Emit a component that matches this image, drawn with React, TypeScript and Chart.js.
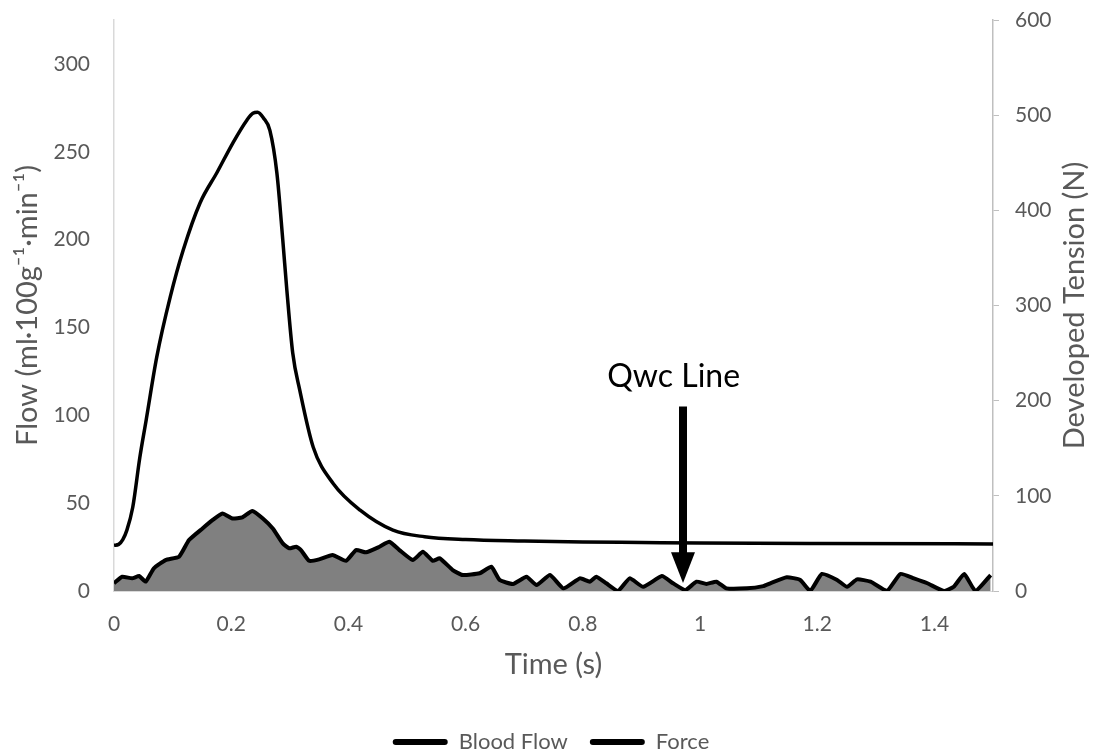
import React, { useEffect, useRef } from "react";
import { Chart, registerables } from "chart.js";

Chart.register(...registerables);

// ---- Data ----
const flowTimes = [
  0.0, 0.014, 0.031, 0.043, 0.054, 0.068, 0.088, 0.111, 0.128, 0.151, 0.168, 0.185, 0.202, 0.219,
  0.236, 0.254, 0.271, 0.288, 0.299, 0.311, 0.319, 0.333, 0.35, 0.373, 0.396, 0.413, 0.43, 0.453,
  0.47, 0.487, 0.51, 0.527, 0.544, 0.556, 0.578, 0.595, 0.624, 0.644, 0.658, 0.681, 0.704, 0.721,
  0.744, 0.767, 0.795, 0.812, 0.823, 0.84, 0.86, 0.88, 0.903, 0.935, 0.954, 0.975, 0.994, 1.011,
  1.028, 1.045, 1.08, 1.108, 1.12, 1.148, 1.171, 1.188, 1.208, 1.234, 1.251, 1.268, 1.291, 1.319,
  1.342, 1.365, 1.388, 1.416, 1.433, 1.451, 1.47, 1.496,
];
const flowValues = [
  4.4, 8.1, 7.2, 8.5, 5.3, 12.9, 17.6, 19.5, 29, 35.6, 40.3, 44.1, 41.3, 41.9,
  45.6, 41.3, 35.6, 27.1, 24.3, 25.2, 23.3, 17.2, 18, 20.5, 17.2, 23.3, 22, 25.2,
  28, 23.3, 17.6, 22.3, 17.2, 18.6, 11.9, 9.1, 10.1, 13.8, 6.3, 4, 8.1, 3.4,
  9.1, 1.5, 7.2, 5.3, 8.1, 4.4, 0, 7.2, 2.4, 8.5, 4.4, 0.5, 5.3, 4,
  5.3, 1.5, 1.5, 2.8, 4.4, 7.8, 6.3, 0, 9.7, 6.3, 2.4, 6.6, 5.3, 0,
  9.7, 7.2, 4.4, 0, 2.4, 9.7, 0, 9.1,
];

const forceTimes = [
  0, 0.008, 0.015, 0.022, 0.032, 0.044, 0.055, 0.073, 0.096, 0.118, 0.147, 0.176, 0.203, 0.227,
  0.237, 0.245, 0.255, 0.266, 0.278, 0.288, 0.295, 0.305, 0.317, 0.34, 0.374, 0.42, 0.476, 0.53,
  0.6, 0.7, 0.8, 0.9, 1.0, 1.2, 1.5,
];
const forceValues = [
  48, 49, 54, 64, 88, 140, 180, 246, 309, 358, 408, 440, 471, 495,
  502, 503, 497, 484, 439, 369, 316, 250, 211, 151, 113, 85, 64, 57,
  54, 52.5, 51.5, 51, 50.5, 50, 49.5,
];

const xTicks = [0, 0.2, 0.4, 0.6, 0.8, 1, 1.2, 1.4];
const flowTicks = [0, 50, 100, 150, 200, 250, 300];
const tensionTicks = [0, 100, 200, 300, 400, 500, 600];

const seriesNames = ["Blood Flow", "Force"];
const axisTitles = ["Time (s)", "Flow (ml·100g⁻¹·min⁻¹)", "Developed Tension (N)"];

const annotationText = "Qwc Line";
const annotationTime = 0.955;
const annotationFlow = 122;
const arrowTime = 0.971;
const arrowStartFlow = 105;
const arrowHeadFlow = 22;
const arrowTipFlow = 4.5;

const FONT = "Lato, 'Open Sans', sans-serif";
const GREY_TEXT = "#595959";

const overlayPlugin = {
  id: "overlay",
  afterDraw(chart: any) {
    const { ctx, scales, chartArea } = chart;
    const xs = scales.x;
    const ys = scales.y;
    const yr = scales.y1;
    ctx.save();
    // right axis title (reads bottom-to-top)
    ctx.fillStyle = GREY_TEXT;
    ctx.font = `29px ${FONT}`;
    ctx.textAlign = "center";
    ctx.textBaseline = "middle";
    ctx.save();
    ctx.translate(yr.right - 27, (chartArea.top + chartArea.bottom) / 2);
    ctx.rotate(-Math.PI / 2);
    ctx.fillText(axisTitles[2], 0, 0);
    ctx.restore();

    // annotation text
    ctx.fillStyle = "#000";
    ctx.font = `32px ${FONT}`;
    ctx.fillText(annotationText, xs.getPixelForValue(annotationTime), ys.getPixelForValue(annotationFlow));

    // arrow
    const ax = xs.getPixelForValue(arrowTime);
    const y0 = ys.getPixelForValue(arrowStartFlow);
    const yh = ys.getPixelForValue(arrowHeadFlow);
    const yt = ys.getPixelForValue(arrowTipFlow);
    ctx.strokeStyle = "#000";
    ctx.lineWidth = 8;
    ctx.beginPath();
    ctx.moveTo(ax, y0);
    ctx.lineTo(ax, yh + 2);
    ctx.stroke();
    ctx.beginPath();
    ctx.moveTo(ax - 12, yh);
    ctx.lineTo(ax + 12, yh);
    ctx.lineTo(ax, yt);
    ctx.closePath();
    ctx.fill();
    ctx.restore();
  },
};

const noVerticalPadding = (s: any) => {
  s.paddingTop = 0;
  s.paddingBottom = 0;
};

export default function App() {
  const canvasRef = useRef<HTMLCanvasElement | null>(null);

  useEffect(() => {
    document.body.style.margin = "0";
    document.body.style.overflow = "hidden";
    const canvas = canvasRef.current;
    if (!canvas) return;

    const flowData = flowTimes.map((t, i) => ({ x: t, y: flowValues[i] }));
    const forceData = forceTimes.map((t, i) => ({ x: t, y: forceValues[i] }));

    const chart = new Chart(canvas, {
      type: "line",
      data: {
        datasets: [
          {
            label: seriesNames[0],
            data: flowData,
            yAxisID: "y",
            borderColor: "#000",
            backgroundColor: "#808080",
            borderWidth: 4,
            borderJoinStyle: "round",
            fill: "origin",
            pointRadius: 0,
            tension: 0.15,
          },
          {
            label: seriesNames[1],
            data: forceData,
            yAxisID: "y1",
            borderColor: "#000",
            backgroundColor: "#000",
            borderWidth: 3.5,
            fill: false,
            pointRadius: 0,
            cubicInterpolationMode: "monotone",
          },
        ],
      },
      options: {
        responsive: false,
        animation: false,
        layout: { padding: { top: 20, bottom: -8, left: 0, right: 0 } },
        plugins: {
          tooltip: { enabled: false },
          legend: {
            position: "bottom",
            labels: {
              boxWidth: 55,
              boxHeight: 6,
              useBorderRadius: true,
              borderRadius: 3,
              padding: 22,
              color: GREY_TEXT,
              font: { family: FONT, size: 22 },
              generateLabels: () =>
                seriesNames.map((n, i) => ({
                  text: n,
                  fillStyle: "#000",
                  strokeStyle: "#000",
                  lineWidth: 0,
                  hidden: false,
                  datasetIndex: i,
                  fontColor: GREY_TEXT,
                  borderRadius: 3,
                })),
            },
          },
        },
        scales: {
          x: {
            type: "linear",
            min: 0,
            max: 1.5,
            afterBuildTicks: (s: any) => {
              s.ticks = xTicks.map((v) => ({ value: v }));
            },
            afterFit: (s: any) => {
              s.height = 118;
            },
            grid: { display: false, drawTicks: false },
            border: { display: true, color: "#d9d9d9", width: 1 },
            ticks: {
              color: GREY_TEXT,
              font: { family: FONT, size: 21 },
              padding: 21,
              maxRotation: 0,
              callback: (v: any) => String(Number(Number(v).toFixed(1))),
            },
            title: {
              display: true,
              text: axisTitles[0],
              color: GREY_TEXT,
              font: { family: FONT, size: 29 },
              padding: { top: 0, bottom: 27 },
            },
          },
          y: {
            type: "linear",
            position: "left",
            min: 0,
            max: 325,
            afterBuildTicks: (s: any) => {
              s.ticks = flowTicks.map((v) => ({ value: v }));
            },
            afterFit: (s: any) => {
              s.width = 114;
              noVerticalPadding(s);
            },
            grid: { display: false, drawTicks: false },
            border: { display: true, color: "#d9d9d9", width: 1.5 },
            ticks: {
              color: GREY_TEXT,
              font: { family: FONT, size: 21 },
              padding: 24,
            },
            title: {
              display: true,
              text: axisTitles[1],
              color: GREY_TEXT,
              font: { family: FONT, size: 29 },
              padding: { top: 10, bottom: 0 },
            },
          },
          y1: {
            type: "linear",
            position: "right",
            min: 0,
            max: 600,
            afterBuildTicks: (s: any) => {
              s.ticks = tensionTicks.map((v) => ({ value: v }));
            },
            afterFit: (s: any) => {
              s.width = 109;
              noVerticalPadding(s);
            },
            grid: {
              display: true,
              drawOnChartArea: false,
              drawTicks: true,
              tickLength: 6,
              color: "#bfbfbf",
            },
            border: { display: true, color: "#bfbfbf", width: 1.5 },
            ticks: {
              color: GREY_TEXT,
              font: { family: FONT, size: 21 },
              padding: 16,
            },
            title: { display: false },
          },
        },
      },
      plugins: [overlayPlugin],
    } as any);

    return () => chart.destroy();
  }, []);

  return (
    <div style={{ width: 1102, height: 755, position: "relative" }}>
      <canvas ref={canvasRef} width={1102} height={755} style={{ display: "block" }} />
    </div>
  );
}
